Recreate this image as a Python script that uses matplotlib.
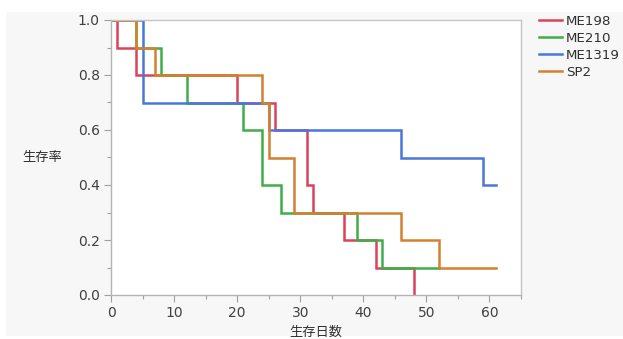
import matplotlib
matplotlib.use("Agg")
import matplotlib.pyplot as plt
from matplotlib.patches import Rectangle
from matplotlib.ticker import MultipleLocator

plt.rcParams['font.family'] = ['DejaVu Sans', 'Noto Sans CJK JP']

# Data (Kaplan-Meier step curves)
series_names = ["ME198", "ME210", "ME1319", "SP2"]
me198_t = [0, 1, 4, 20, 26, 31, 32, 37, 42, 48]
me198_s = [1.0, 0.9, 0.8, 0.7, 0.6, 0.4, 0.3, 0.2, 0.1, 0.0]
me210_t = [0, 4, 8, 12, 21, 24, 27, 39, 43, 52]
me210_s = [1.0, 0.9, 0.8, 0.7, 0.6, 0.4, 0.3, 0.2, 0.1, 0.1]
me1319_t = [0, 5, 25, 46, 59, 61]
me1319_s = [1.0, 0.7, 0.6, 0.5, 0.4, 0.4]
sp2_t = [0, 4, 7, 24, 25, 29, 46, 52, 61]
sp2_s = [1.0, 0.9, 0.8, 0.7, 0.5, 0.3, 0.2, 0.1, 0.1]
colors = ["#d9445a", "#3fad48", "#4a76da", "#d4802e"]

W, H = 623, 339
fig = plt.figure(figsize=(W / 100, H / 100), dpi=100)
fig.patch.set_facecolor("white")
fig.patches.append(Rectangle((6 / W, 3 / H), 1 - 6 / W, (336 - 12) / H,
                             transform=fig.transFigure, facecolor="#f7f7f7",
                             edgecolor="none", zorder=-10))

ax = fig.add_axes([111 / W, (H - 295) / H, (521 - 111) / W, (295 - 20) / H])
ax.set_facecolor("white")

data = [(me198_t, me198_s), (me210_t, me210_s), (me1319_t, me1319_s), (sp2_t, sp2_s)]
for (t, s), name, c in zip(data, series_names, colors):
    ax.step(t, s, where="post", color=c, lw=1.8, label=name, solid_joinstyle="miter")

ax.set_xlim(0, 65)
ax.set_ylim(0, 1.0)
ax.xaxis.set_major_locator(MultipleLocator(10))
ax.xaxis.set_minor_locator(MultipleLocator(5))
ax.yaxis.set_major_locator(MultipleLocator(0.2))
ax.yaxis.set_minor_locator(MultipleLocator(0.1))
ax.yaxis.set_major_formatter(matplotlib.ticker.FormatStrFormatter("%.1f"))

for sp in ax.spines.values():
    sp.set_color("#c4c4c4")
    sp.set_linewidth(1.0)
ax.spines["left"].set_color("#b4b4b4")
ax.spines["bottom"].set_color("#b4b4b4")

ax.tick_params(axis="both", which="major", length=5, width=0.8, color="#a0a0a0",
               labelsize=10, labelcolor="#404040", pad=3)
ax.tick_params(axis="both", which="minor", length=3, width=0.8, color="#a0a0a0")

fig.text(42 / W, 1 - 157 / H, "生存率", ha="center", va="center", fontsize=9.5, color="#303030")
fig.text(316 / W, 1 - 332 / H, "生存日数", ha="center", va="center", fontsize=9.5, color="#303030")

leg = fig.legend(loc="upper left", bbox_to_anchor=(536 / W, 1 - 12.5 / H), frameon=False,
                 fontsize=9.6, handlelength=1.75, handletextpad=0.3, labelspacing=0.3,
                 borderaxespad=0, borderpad=0.2)
for txt in leg.get_texts():
    txt.set_color("#303030")

fig.savefig("out.png", dpi=100, facecolor=fig.get_facecolor())
